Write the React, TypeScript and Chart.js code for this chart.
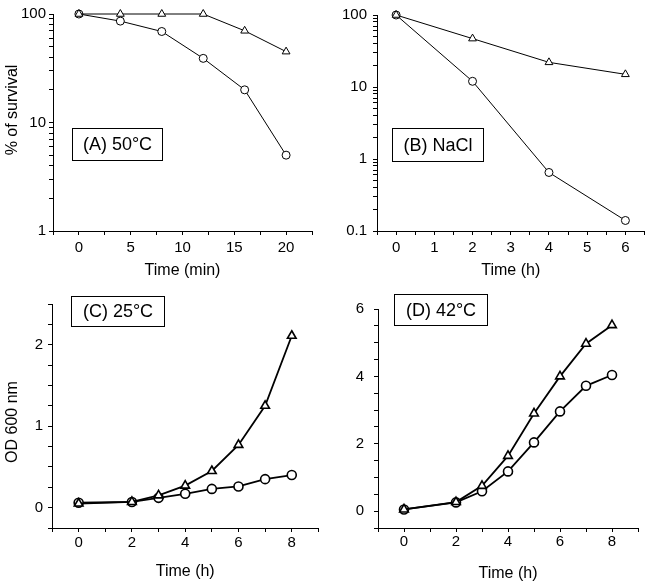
import React, { useEffect, useRef } from 'react';
import { Chart, registerables } from 'chart.js';

Chart.register(...registerables);

const FONT = '"Liberation Sans", Arial, Helvetica, sans-serif';

// ---------- data ----------
const timeA = [0, 4, 8, 12, 16, 20];
const survivalA_triangle = [100, 100, 100, 100, 70, 45];
const survivalA_circle = [100, 86, 69, 39, 20, 5];

const timeB = [0, 2, 4, 6];
const survivalB_triangle = [100, 47, 22, 15];
const survivalB_circle = [100, 12, 0.65, 0.14];

const timeCD = [0, 2, 3, 4, 5, 6, 7, 8];
const odC_triangle = [0.05, 0.07, 0.15, 0.27, 0.45, 0.77, 1.25, 2.11];
const odC_circle = [0.06, 0.07, 0.12, 0.17, 0.23, 0.26, 0.35, 0.4];
const odD_triangle = [0.05, 0.27, 0.75, 1.64, 2.9, 4.0, 4.97, 5.52];
const odD_circle = [0.05, 0.26, 0.59, 1.18, 2.04, 2.96, 3.72, 4.04];

const panelLabels = ['(A) 50°C', '(B) NaCl', '(C) 25°C', '(D) 42°C'];
const xTitles = ['Time (min)', 'Time (h)', 'Time (h)', 'Time (h)'];
const yTitles = ['% of survival', '', 'OD 600 nm', ''];
const logSignificands = [1, 2, 3, 4, 5, 6, 7, 8, 9];

// ---------- plugin: boxed panel label + y title ----------
const panelDecorPlugin = {
  id: 'panelDecor',
  afterDatasetsDraw(chart: any, _args: any, opts: any) {
    if (!opts) return;
    const { ctx } = chart;
    if (opts.text) {
      const b = opts.box;
      ctx.save();
      ctx.fillStyle = '#fff';
      ctx.fillRect(b.x, b.y, b.w, b.h);
      ctx.strokeStyle = '#000';
      ctx.lineWidth = 1;
      ctx.strokeRect(b.x, b.y, b.w, b.h);
      ctx.fillStyle = '#000';
      ctx.font = `18px ${FONT}`;
      ctx.textAlign = 'center';
      ctx.textBaseline = 'middle';
      ctx.fillText(opts.text, b.x + b.w / 2, b.y + b.h / 2 + 1);
      ctx.restore();
    }
    if (opts.yTitle) {
      ctx.save();
      ctx.translate(opts.yTitleX, opts.yTitleY);
      ctx.rotate(-Math.PI / 2);
      ctx.fillStyle = '#000';
      ctx.font = `16px ${FONT}`;
      ctx.textAlign = 'center';
      ctx.textBaseline = 'middle';
      ctx.fillText(opts.yTitle, 0, 0);
      ctx.restore();
    }
  },
};

const isPow10 = (v: number) => {
  const l = Math.log10(v);
  return Math.abs(l - Math.round(l)) < 1e-6;
};
const isInt = (v: number) => Math.abs(v - Math.round(v)) < 1e-6;
const isEven = (v: number) => isInt(v) && Math.round(v) % 2 === 0;

type Spec = {
  left: number; top: number; width: number; height: number;
  xs: number[]; tri: number[]; circ: number[];
  xMin: number; xMax: number; xStep: number; xShow: (v: number) => boolean;
  yType: 'linear' | 'logarithmic'; yMin: number; yMax: number; yStep?: number; yShow: (v: number) => boolean;
  xTitle: string; yTitle: string; yTitleX: number; yTitleY: number; label: string;
  box: { x: number; y: number; w: number; h: number };
  padTop: number; padRight: number; yWidth: number; xHeight: number;
  xTickPad: number; yTickPad: number; xTitlePad: number;
  lineWidth: number; pointBorder: number; triR: number; circR: number;
};

const specs: Spec[] = [
  {
    left: 0, top: 0, width: 325, height: 290,
    xs: timeA, tri: survivalA_triangle, circ: survivalA_circle,
    xMin: -2.5, xMax: 22.5, xStep: 2.5, xShow: (v) => isInt(v / 5),
    yType: 'logarithmic', yMin: 1, yMax: 100, yShow: isPow10,
    xTitle: xTitles[0], yTitle: yTitles[0], yTitleX: 13, yTitleY: 110, label: panelLabels[0],
    box: { x: 72.5, y: 128.5, w: 90, h: 32 },
    padTop: 14, padRight: 13, yWidth: 53, xHeight: 59,
    xTickPad: 4, yTickPad: 3, xTitlePad: 10,
    lineWidth: 1, pointBorder: 1, triR: 4.5, circR: 4,
  },
  {
    left: 325, top: 0, width: 325, height: 290,
    xs: timeB, tri: survivalB_triangle, circ: survivalB_circle,
    xMin: -0.5, xMax: 6.5, xStep: 0.5, xShow: isInt,
    yType: 'logarithmic', yMin: 0.1, yMax: 100, yShow: isPow10,
    xTitle: xTitles[1], yTitle: yTitles[1], yTitleX: 0, yTitleY: 0, label: panelLabels[1],
    box: { x: 67.5, y: 128.5, w: 91, h: 33 },
    padTop: 5, padRight: 5, yWidth: 52, xHeight: 59,
    xTickPad: 4, yTickPad: 6, xTitlePad: 10,
    lineWidth: 1, pointBorder: 1, triR: 4.5, circR: 4,
  },
  {
    left: 0, top: 290, width: 325, height: 293,
    xs: timeCD, tri: odC_triangle, circ: odC_circle,
    xMin: -1, xMax: 9, xStep: 1, xShow: (v) => isEven(v) && v >= 0 && v <= 8,
    yType: 'linear', yMin: -0.25, yMax: 2.5, yStep: 0.25, yShow: isInt,
    xTitle: xTitles[2], yTitle: yTitles[2], yTitleX: 13, yTitleY: 132, label: panelLabels[2],
    box: { x: 71.5, y: 6.5, w: 93, h: 30 },
    padTop: 5, padRight: 2, yWidth: 52, xHeight: 55,
    xTickPad: 2, yTickPad: 5, xTitlePad: 2,
    lineWidth: 1.8, pointBorder: 1.6, triR: 5, circR: 4.5,
  },
  {
    left: 325, top: 290, width: 325, height: 293,
    xs: timeCD, tri: odD_triangle, circ: odD_circle,
    xMin: -1, xMax: 9, xStep: 1, xShow: (v) => isEven(v) && v >= 0 && v <= 8,
    yType: 'linear', yMin: -0.5, yMax: 6, yStep: 0.5, yShow: isEven,
    xTitle: xTitles[3], yTitle: yTitles[3], yTitleX: 0, yTitleY: 0, label: panelLabels[3],
    box: { x: 69.5, y: 4.5, w: 93, h: 31 },
    padTop: 16, padRight: 12, yWidth: 53, xHeight: 55,
    xTickPad: 1, yTickPad: 10, xTitlePad: 0,
    lineWidth: 1.8, pointBorder: 1.6, triR: 5, circR: 4.5,
  },
];

function logTickValues(min: number, max: number): number[] {
  const out: number[] = [];
  for (let e = Math.floor(Math.log10(min)); e <= Math.ceil(Math.log10(max)); e++) {
    for (const s of logSignificands) {
      const v = Number((s * Math.pow(10, e)).toPrecision(6));
      if (v >= min - 1e-9 && v <= max + 1e-9) out.push(v);
    }
  }
  return out;
}

function buildConfig(s: Spec): any {
  const tickFont = { family: FONT, size: 15, weight: 'normal' };
  const titleFont = { family: FONT, size: 16, weight: 'normal' };
  const makeGrid = () => ({ display: true, drawOnChartArea: false, drawTicks: true, tickLength: 4, color: '#000', lineWidth: 1 });
  const makeBorder = () => ({ display: true, color: '#000', width: 1 });
  const fmt = (v: number) => String(Number(Number(v).toPrecision(6)));
  const yAfterBuild =
    s.yType === 'logarithmic'
      ? (scale: any) => { scale.ticks = logTickValues(s.yMin, s.yMax).map((value) => ({ value, major: isPow10(value) })); }
      : undefined;
  return {
    type: 'line',
    data: {
      datasets: [
        {
          data: s.xs.map((x, i) => ({ x, y: s.tri[i] })),
          borderColor: '#000', borderWidth: s.lineWidth,
          pointStyle: 'triangle', pointRadius: s.triR,
          pointBackgroundColor: '#fff', pointBorderColor: '#000', pointBorderWidth: s.pointBorder,
          showLine: true, fill: false, tension: 0, clip: false,
        },
        {
          data: s.xs.map((x, i) => ({ x, y: s.circ[i] })),
          borderColor: '#000', borderWidth: s.lineWidth,
          pointStyle: 'circle', pointRadius: s.circR,
          pointBackgroundColor: '#fff', pointBorderColor: '#000', pointBorderWidth: s.pointBorder,
          showLine: true, fill: false, tension: 0, clip: false,
        },
      ],
    },
    options: {
      responsive: false,
      animation: false,
      devicePixelRatio: 1,
      events: [],
      layout: { padding: { left: 0, top: s.padTop, right: s.padRight, bottom: 0 } },
      plugins: {
        legend: { display: false },
        tooltip: { enabled: false },
        panelDecor: { text: s.label, box: s.box, yTitle: s.yTitle, yTitleX: s.yTitleX, yTitleY: s.yTitleY },
      },
      scales: {
        x: {
          type: 'linear', min: s.xMin, max: s.xMax,
          ticks: {
            stepSize: s.xStep, autoSkip: false, maxRotation: 0, includeBounds: true,
            color: '#000', font: tickFont, padding: s.xTickPad,
            callback: (v: any) => (s.xShow(Number(v)) ? fmt(v) : ''),
          },
          grid: makeGrid(), border: makeBorder(),
          title: { display: true, text: s.xTitle, color: '#000', font: titleFont, padding: { top: 0, bottom: s.xTitlePad } },
          afterFit: (scale: any) => { scale.height = s.xHeight; },
        },
        y: {
          type: s.yType, min: s.yMin, max: s.yMax,
          ticks: {
            ...(s.yStep ? { stepSize: s.yStep } : {}),
            autoSkip: false, color: '#000', font: tickFont, padding: s.yTickPad,
            callback: (v: any) => (s.yShow(Number(v)) ? fmt(v) : ''),
          },
          grid: makeGrid(), border: makeBorder(),
          title: { display: false },
          ...(yAfterBuild ? { afterBuildTicks: yAfterBuild } : {}),
          afterFit: (scale: any) => { scale.width = s.yWidth; },
        },
      },
    },
    plugins: [panelDecorPlugin],
  };
}

function Panel({ spec }: { spec: Spec }) {
  const ref = useRef<HTMLCanvasElement | null>(null);
  useEffect(() => {
    if (!ref.current) return;
    const chart = new Chart(ref.current, buildConfig(spec));
    return () => chart.destroy();
  }, [spec]);
  return (
    <div style={{ position: 'absolute', left: spec.left, top: spec.top, width: spec.width, height: spec.height }}>
      <canvas ref={ref} width={spec.width} height={spec.height} style={{ display: 'block' }} />
    </div>
  );
}

export default function App() {
  return (
    <div style={{ position: 'absolute', left: 0, top: 0, width: 650, height: 583, background: '#fff' }}>
      {specs.map((s, i) => (
        <Panel key={i} spec={s} />
      ))}
    </div>
  );
}
